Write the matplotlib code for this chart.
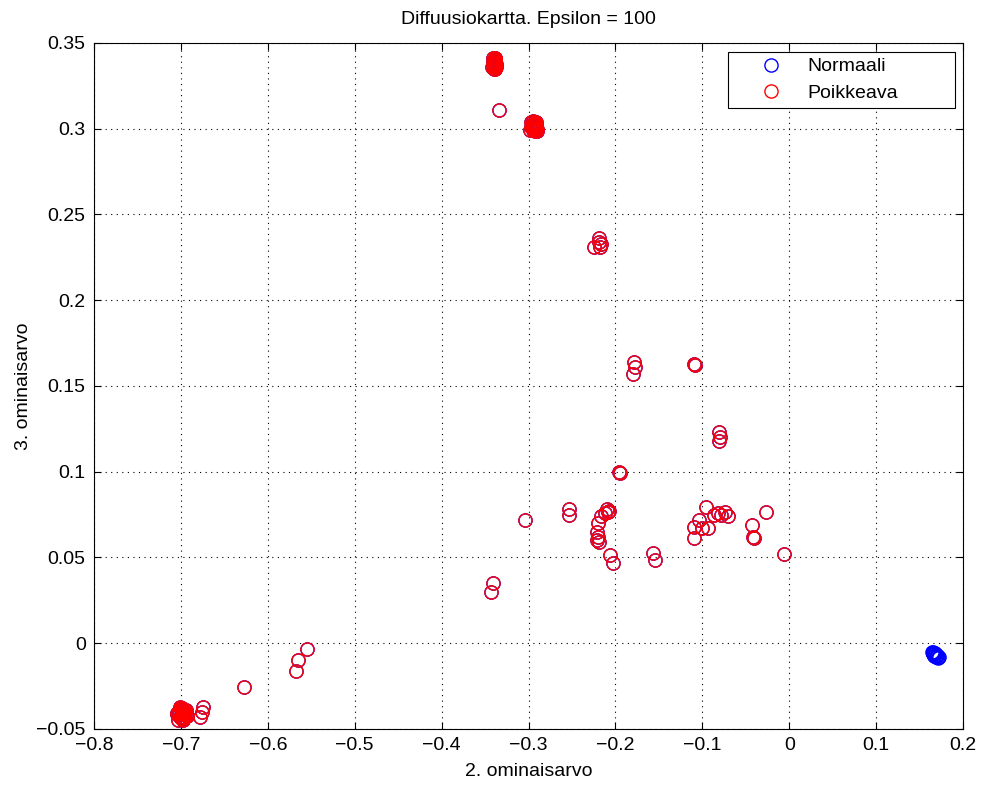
import matplotlib
matplotlib.use('Agg')
import matplotlib.pyplot as plt

plt.rcParams['font.family'] = ['Liberation Sans', 'DejaVu Sans']

# anomalous points (drawn blue first, then red over them)
poik_x = [
    # top-left cluster around (-0.34, 0.338)
    -0.341, -0.340, -0.339, -0.338, -0.340, -0.342, -0.339, -0.337, -0.341, -0.338,
    -0.340, -0.339, -0.338, -0.341, -0.340, -0.337, -0.339, -0.340,
    -0.334,
    # cluster around (-0.294, 0.301)
    -0.297, -0.295, -0.293, -0.291, -0.296, -0.294, -0.292, -0.290, -0.298, -0.295,
    -0.293, -0.291, -0.294, -0.296, -0.292, -0.290, -0.295, -0.293, -0.297, -0.291,
    # 0.23 group
    -0.225, -0.219, -0.218, -0.219, -0.217,
    # 0.16 group
    -0.179, -0.178, -0.180, -0.109, -0.108,
    # 0.12 group
    -0.081, -0.080, -0.081,
    # middle scatter
    -0.196, -0.195, -0.304, -0.253, -0.253, -0.210, -0.207, -0.212, -0.209, -0.217,
    -0.220, -0.221, -0.220, -0.221, -0.219, -0.206, -0.203, -0.157, -0.154,
    -0.341, -0.343,
    -0.096, -0.104, -0.110, -0.110, -0.100, -0.093, -0.086, -0.082, -0.078, -0.074,
    -0.070, -0.043, -0.042, -0.041, -0.027, -0.006,
    # bottom-left group
    -0.5545, -0.565, -0.568, -0.627, -0.675, -0.676, -0.678,
    # bottom-left cluster around (-0.699, -0.041)
    -0.705, -0.702, -0.700, -0.698, -0.696, -0.694, -0.703, -0.701, -0.699, -0.697,
    -0.695, -0.693, -0.704, -0.700, -0.698, -0.696, -0.702, -0.699, -0.697, -0.694,
    -0.701, -0.698,
]
poik_y = [
    0.341, 0.340, 0.339, 0.338, 0.337, 0.336, 0.335, 0.336, 0.339, 0.341,
    0.335, 0.337, 0.340, 0.338, 0.336, 0.338, 0.341, 0.339,
    0.311,
    0.304, 0.3045, 0.304, 0.303, 0.302, 0.302, 0.301, 0.300, 0.299, 0.299,
    0.300, 0.301, 0.303, 0.3005, 0.2985, 0.2985, 0.303, 0.302, 0.301, 0.304,
    0.231, 0.236, 0.231, 0.234, 0.233,
    0.164, 0.161, 0.157, 0.163, 0.162,
    0.1234, 0.1205, 0.118,
    0.100, 0.099, 0.072, 0.078, 0.075, 0.078, 0.077, 0.076, 0.0765, 0.074,
    0.070, 0.065, 0.062, 0.060, 0.059, 0.0515, 0.0468, 0.0526, 0.0485,
    0.0353, 0.0299,
    0.0796, 0.0719, 0.068, 0.0616, 0.0672, 0.0672, 0.0748, 0.0758, 0.0748, 0.0767,
    0.0743, 0.069, 0.062, 0.0615, 0.0767, 0.0519,
    -0.0034, -0.0098, -0.016, -0.0253, -0.0374, -0.040, -0.0432,
    -0.0410, -0.0420, -0.0380, -0.0400, -0.0430, -0.0390, -0.0445, -0.0370, -0.0440, -0.0415,
    -0.0395, -0.0425, -0.0405, -0.0435, -0.0385, -0.0412, -0.0398, -0.0375, -0.0448, -0.0418,
    -0.0428, -0.0392,
]

# normal points only (bottom-right cluster)
norm_x = [0.164, 0.165, 0.166, 0.167, 0.168, 0.169, 0.170, 0.171, 0.166, 0.168,
          0.170, 0.172, 0.165, 0.167, 0.169, 0.171]
norm_y = [-0.0052, -0.0056, -0.0060, -0.0064, -0.0068, -0.0072, -0.0076, -0.0082, -0.0050, -0.0058,
          -0.0066, -0.0080, -0.0062, -0.0072, -0.0080, -0.0086]

xticks = [-0.8, -0.7, -0.6, -0.5, -0.4, -0.3, -0.2, -0.1, 0, 0.1, 0.2]
yticks = [-0.05, 0, 0.05, 0.1, 0.15, 0.2, 0.25, 0.3, 0.35]

fig = plt.figure(figsize=(9.85, 7.87), dpi=100)
ax = fig.add_axes([0.0954, 0.0737, 0.8823, 0.8717])

ax.plot(norm_x + poik_x, norm_y + poik_y, 'o', mfc='none', mec='blue', ms=9.5, mew=1,
        label='Normaali')
ax.plot(poik_x, poik_y, 'o', mfc='none', mec='red', ms=9.5, mew=1,
        label='Poikkeava')

def fmt(v):
    s = ('%g' % v)
    return s.replace('-', '\u2212')

ax.set_xlim(-0.8, 0.2)
ax.set_ylim(-0.05, 0.35)
ax.set_xticks(xticks)
ax.set_xticklabels([fmt(v) for v in xticks])
ax.set_yticks(yticks)
ax.set_yticklabels([fmt(v) for v in yticks])
ax.tick_params(direction='in', top=True, right=True, labelsize=14, length=5, pad=6)
ax.grid(True, linestyle=(0, (1, 4)), color='black', linewidth=0.8)
for s in ax.spines.values():
    s.set_linewidth(0.8)

ax.set_xlabel('2. ominaisarvo', fontsize=14, labelpad=6)
ax.set_ylabel('3. ominaisarvo', fontsize=14, labelpad=3)
ax.set_title('Diffuusiokartta. Epsilon = 100', fontsize=14, pad=14)

leg = ax.legend(loc='upper left', fontsize=14, fancybox=False, framealpha=1,
                edgecolor='black', borderpad=0.3, handletextpad=0.0, handlelength=3.8,
                labelspacing=0.45, mode='expand',
                bbox_to_anchor=(0.7296, 0.5, 0.2612, 0.4869), borderaxespad=0)
leg.get_frame().set_linewidth(0.8)

plt.savefig('out.png', dpi=100)
